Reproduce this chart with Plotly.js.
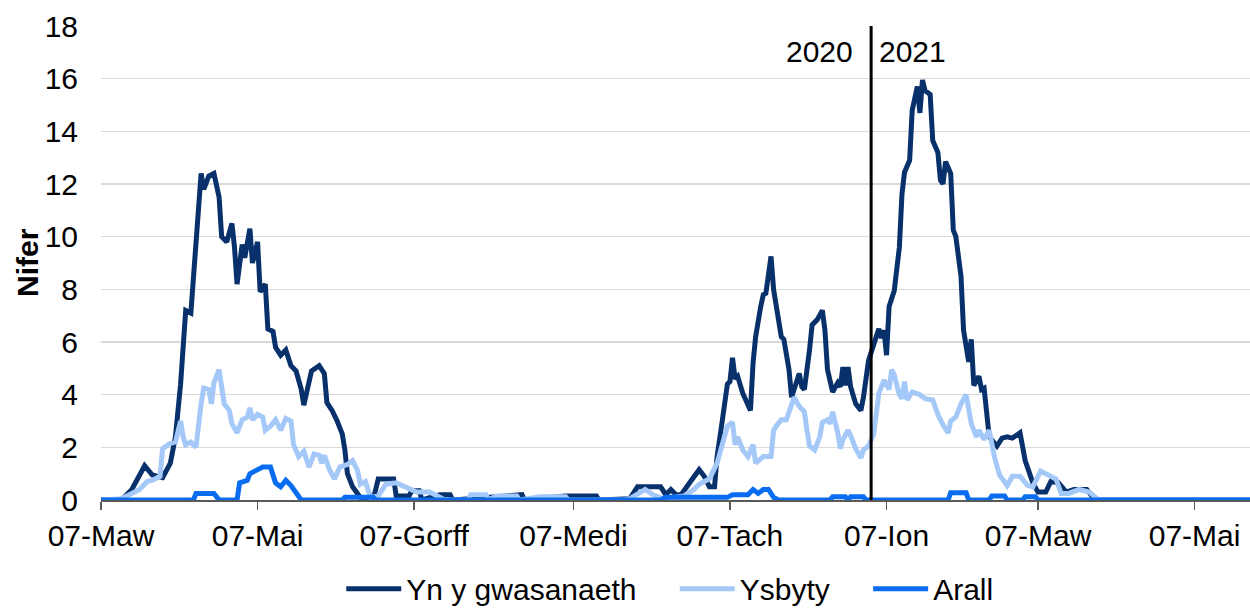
<!DOCTYPE html>
<html>
<head>
<meta charset="utf-8">
<script src="https://cdn.plot.ly/plotly-3.0.1.min.js"></script>
<style>
  body { margin: 0; background: #fff; }
  #chart { width: 1250px; height: 610px; }
</style>
</head>
<body>
<div id="chart"></div>
<script>
// days counted from 07 March 2020
var startDay = Date.UTC(2020, 2, 7);

var gwDays = [0,8,12,17,20,24,27,29,31,33,35,37,39,40,42,44,46,47,49,51,52,53,55,56,58,59,60,61,62,64,65,67,68,70,72,74,76,78,79,80,82,85,87,88,90,92,94,95,96,98,101,106,108,114,115,120,121,124,125,132,136,137,159,164,165,181,193,194,206,209,212,218,220,222,224,226,230,233,235,237,239,240,242,244,245,246,247,248,250,251,253,254,255,257,258,259,261,262,264,265,266,268,269,270,272,273,274,276,277,279,281,282,283,285,287,288,289,290,291,292,294,296,297,299,301,303,304,305,306,307,309,311,312,313,315,316,318,319,320,321,323,324,326,327,328,329,331,332,333,335,336,338,339,340,342,343,344,346,349,351,353,355,358,360,363,365,368,370,373,376,379,384,386,388,448];
var gwVals = [0,0,0.4,1.3,0.95,0.85,1.4,2.4,4.4,7.2,7.1,9.5,12.4,11.8,12.3,12.4,11.5,10,9.8,10.5,9.6,8.2,9.7,9.2,10.3,9.0,9.5,9.8,7.9,8.2,6.5,6.4,5.8,5.5,5.7,5.1,4.9,4.2,3.6,4.0,4.9,5.1,4.8,3.7,3.4,3.0,2.5,1.9,1.0,0.5,0.1,0,0.8,0.8,0.15,0.15,0.35,0.35,0,0.2,0.2,0,0.2,0.2,0,0.15,0.15,0,0.05,0.5,0.5,0.5,0.2,0.4,0.2,0.2,0.75,1.15,0.9,0.5,0.5,1.65,3.0,4.4,4.5,5.4,4.6,4.7,4.05,3.8,3.4,5.2,6.2,7.35,7.8,7.85,9.25,8.0,6.95,6.2,6.1,4.95,3.9,4.2,4.8,4.3,4.2,5.7,6.65,6.85,7.2,6.45,4.95,4.1,4.45,4.3,5.05,4.35,5.05,4.3,3.65,3.4,3.9,5.3,5.9,6.5,6.15,6.45,5.5,7.35,7.95,9.6,11.6,12.45,12.9,14.8,15.7,14.7,15.95,15.55,15.4,13.65,13.2,12.15,12.0,12.85,12.4,10.25,10,8.5,6.45,5.25,6.1,4.35,4.7,4.2,4.25,2.4,2.05,2.35,2.4,2.35,2.55,1.5,0.65,0.3,0.3,0.7,0.65,0.3,0.4,0.4,0.15,0,0];

var ysDays = [0,8,12,15,18,20,23,24,27,29,31,32,33,35,37,38,39,40,42,43,44,45,46,47,48,50,51,53,55,57,58,59,61,63,64,66,68,70,72,74,75,77,79,81,83,85,86,87,89,91,93,96,98,100,101,103,105,108,111,115,119,123,128,132,134,143,144,150,151,154,162,163,171,181,182,204,206,212,215,219,227,231,233,235,237,240,242,244,246,247,248,250,252,254,255,258,261,262,263,265,267,268,270,272,274,275,276,278,280,281,283,284,285,287,288,289,291,292,293,294,296,297,299,301,303,305,307,308,309,311,312,313,314,316,319,321,324,326,328,330,331,333,335,337,339,341,342,344,346,348,350,353,355,358,361,363,366,370,372,374,377,381,385,388,389,448];
var ysVals = [0,0.05,0.25,0.4,0.7,0.75,0.9,1.95,2.15,2.2,3.0,2.4,2.1,2.2,2.0,2.9,3.65,4.25,4.2,3.65,4.45,4.7,4.95,4.3,3.65,3.4,2.9,2.55,3.05,3.15,3.5,3.05,3.25,3.15,2.65,2.8,3.05,2.65,3.1,3.0,2.1,1.65,1.85,1.25,1.75,1.7,1.4,1.7,1.15,0.8,1.25,1.35,1.5,1.1,0.6,0.7,0.1,0.15,0.6,0.65,0.5,0.3,0.3,0.1,0,0,0.2,0.2,0,0.15,0.15,0,0.12,0.12,0,0,0.05,0.4,0.2,0.05,0.15,0.4,0.6,0.7,0.8,1.4,2.15,2.8,2.95,2.1,2.4,1.9,1.65,2.1,1.4,1.65,1.65,2.65,2.8,3.05,3.05,3.35,3.9,3.55,3.35,2.65,2.05,1.9,2.4,2.95,3.05,2.9,3.35,2.55,1.95,2.3,2.65,2.45,2.15,1.95,1.6,1.9,2.05,2.5,4.05,4.55,4.2,4.95,4.75,4.0,3.85,4.5,3.8,4.1,4.0,3.85,3.8,3.25,2.85,2.55,3.0,3.15,3.65,4.0,2.9,2.4,2.65,2.3,2.65,1.65,0.95,0.55,0.9,0.9,0.55,0.5,1.1,0.9,0.8,0.25,0.25,0.4,0.3,0.05,0,0];

var arDays = [0,36,37,44,46,53,54,57,58,61,63,66,68,70,72,74,76,78,94,95,106,107,218,220,244,246,252,254,256,258,260,262,264,284,285,290,291,292,297,298,330,331,337,338,346,347,352,353,359,360,364,365,448];
var arVals = [0,0,0.25,0.25,0,0,0.65,0.75,1.0,1.15,1.25,1.25,0.65,0.5,0.75,0.55,0.3,0,0,0.1,0.1,0,0,0.1,0.1,0.2,0.2,0.4,0.25,0.4,0.4,0.1,0,0,0.12,0.12,0,0.12,0.12,0,0,0.28,0.28,0,0,0.15,0.15,0,0,0.12,0.12,0,0];

var tickDates = ['2020-03-07','2020-05-07','2020-07-07','2020-09-07','2020-11-07','2021-01-07','2021-03-07','2021-05-07'];
var tickLabels = ['07-Maw','07-Mai','07-Gorff','07-Medi','07-Tach','07-Ion','07-Maw','07-Mai'];

function toDate(n) {
    return new Date(startDay + n * 86400000).toISOString().slice(0, 10);
}

var font = 'Liberation Sans, Arial, sans-serif';
var pad = '\u00a0\u00a0\u00a0\u00a0';

var trace1 = {
    x: gwDays.map(toDate), y: gwVals,
    name: 'Yn y gwasanaeth' + pad, mode: 'lines',
    line: {color: '#08306b', width: 5}
};
var trace2 = {
    x: ysDays.map(toDate), y: ysVals,
    name: 'Ysbyty' + pad, mode: 'lines',
    line: {color: '#a4c8f8', width: 5}
};
var trace3 = {
    x: arDays.map(toDate), y: arVals,
    name: 'Arall', mode: 'lines',
    line: {color: '#0a6cf0', width: 5}
};

var layout = {
    width: 1250, height: 610,
    margin: {l: 101, r: 0, t: 26, b: 110},
    paper_bgcolor: '#fff', plot_bgcolor: '#fff',
    font: {family: font, size: 30, color: '#000'},
    showlegend: true,
    legend: {
        orientation: 'h', x: 0.495, xanchor: 'center',
        yref: 'container', y: 0.035, yanchor: 'middle',
        font: {size: 30}, itemwidth: 55
    },
    xaxis: {
        type: 'date',
        range: ['2020-03-07', '2021-05-28 14:00'],
        tickvals: tickDates, ticktext: tickLabels,
        ticks: 'outside', ticklen: 8, tickwidth: 1.5, tickcolor: '#595959',
        showline: true, linecolor: '#595959', linewidth: 1.5,
        showgrid: false, zeroline: false,
        tickfont: {size: 30}
    },
    yaxis: {
        range: [0, 18], dtick: 2,
        gridcolor: '#d9d9d9', gridwidth: 1.5,
        showline: false, zeroline: false,
        ticks: '', ticklabelstandoff: 22,
        tickfont: {size: 30}
    },
    shapes: [{
        type: 'line', xref: 'x', yref: 'paper',
        x0: '2021-01-01', x1: '2021-01-01', y0: 0, y1: 1,
        line: {color: '#000', width: 3}
    }],
    annotations: [
        {x: 0, y: 0.5, xref: 'paper', yref: 'paper', text: '<b>Nifer</b>',
         textangle: -90, showarrow: false, xanchor: 'center', yanchor: 'middle',
         xshift: -74, font: {size: 30}},
        {x: '2021-01-01', y: 17.05, xref: 'x', yref: 'y', text: '2020',
         showarrow: false, xanchor: 'right', yanchor: 'middle', xshift: -16, font: {size: 30}},
        {x: '2021-01-01', y: 17.05, xref: 'x', yref: 'y', text: '2021',
         showarrow: false, xanchor: 'left', yanchor: 'middle', xshift: 6, font: {size: 30}}
    ]
};

Plotly.newPlot('chart', [trace1, trace2, trace3], layout, {displayModeBar: false, staticPlot: true});
</script>
</body>
</html>
